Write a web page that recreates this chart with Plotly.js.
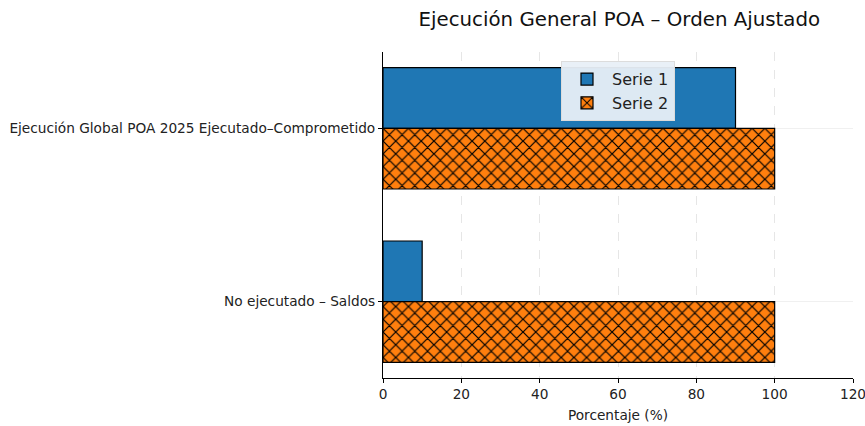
<!DOCTYPE html>
<html>
<head>
<meta charset="utf-8">
<script src="https://cdn.plot.ly/plotly-3.0.1.min.js"></script>
<style>html,body{margin:0;padding:0;background:#fff;}#chart{width:865px;height:426px;}</style>
</head>
<body>
<div id="chart"></div>
<script>
const categories = ["Ejecución Global POA 2025 Ejecutado–Comprometido", "No ejecutado – Saldos"];
const serie1 = [90, 10];
const serie2 = [100, 100];
const seriesNames = ["Serie 1", "Serie 2"];
const xTicks = [0, 20, 40, 60, 80, 100, 120];

const font = "DejaVu Sans, sans-serif";
const data = [
  {
    type: "bar", orientation: "h", name: seriesNames[0],
    y: categories, x: serie1,
    marker: {color: "#1f77b4", line: {color: "#000", width: 1.2}},
    width: 0.35
  },
  {
    type: "bar", orientation: "h", name: seriesNames[1],
    y: categories, x: serie2,
    marker: {color: "#ff7f0e", line: {color: "#000", width: 1.2},
      pattern: {shape: "x", fgcolor: "#000", bgcolor: "#ff7f0e", size: 9, solidity: 0.25}},
    width: 0.35
  }
];
const layout = {
  width: 865, height: 426,
  margin: {l: 383, r: 12, t: 52, b: 48},
  paper_bgcolor: "#fff", plot_bgcolor: "#fff",
  font: {family: font, size: 13.7, color: "#222"},
  title: {text: "Ejecución General POA – Orden Ajustado", x: 0.716, xanchor: "center", y: 0.972, yanchor: "top",
          font: {family: font, size: 19.8, color: "#111"}},
  barmode: "group", bargap: 0.3, bargroupgap: 0,
  xaxis: {
    range: [0, 120.001], tickvals: xTicks, ticktext: xTicks.map(String),
    ticklabeloverflow: "allow",
    showline: true, linecolor: "#000", linewidth: 1,
    ticks: "outside", ticklen: 4, tickcolor: "#000",
    showgrid: true, gridcolor: "#e6e6e6", griddash: "dash", gridwidth: 1,
    zeroline: false, tickfont: {size: 13.7, color: "#222"},
    title: {text: "Porcentaje (%)", font: {size: 13.7, color: "#222"}, standoff: 8}
  },
  yaxis: {
    type: "category", categoryorder: "array", categoryarray: categories,
    autorange: false, range: [1.44, -0.44],
    showline: true, linecolor: "#000", linewidth: 1,
    ticks: "outside", ticklen: 4, tickcolor: "#000",
    showgrid: true, gridcolor: "#f0f0f0", gridwidth: 1,
    zeroline: false, tickfont: {size: 13.7, color: "#222"}
  },
  legend: {
    x: 0.5, xanchor: "center", y: 0.972, yanchor: "top",
    bgcolor: "rgba(232,239,247,0.95)", bordercolor: "#dcdcdc", borderwidth: 1,
    font: {size: 16, color: "#222"}, traceorder: "normal", itemwidth: 40,
    tracegroupgap: 0
  },
  showlegend: true
};
Plotly.newPlot("chart", data, layout, {displayModeBar: false});
</script>
</body>
</html>
